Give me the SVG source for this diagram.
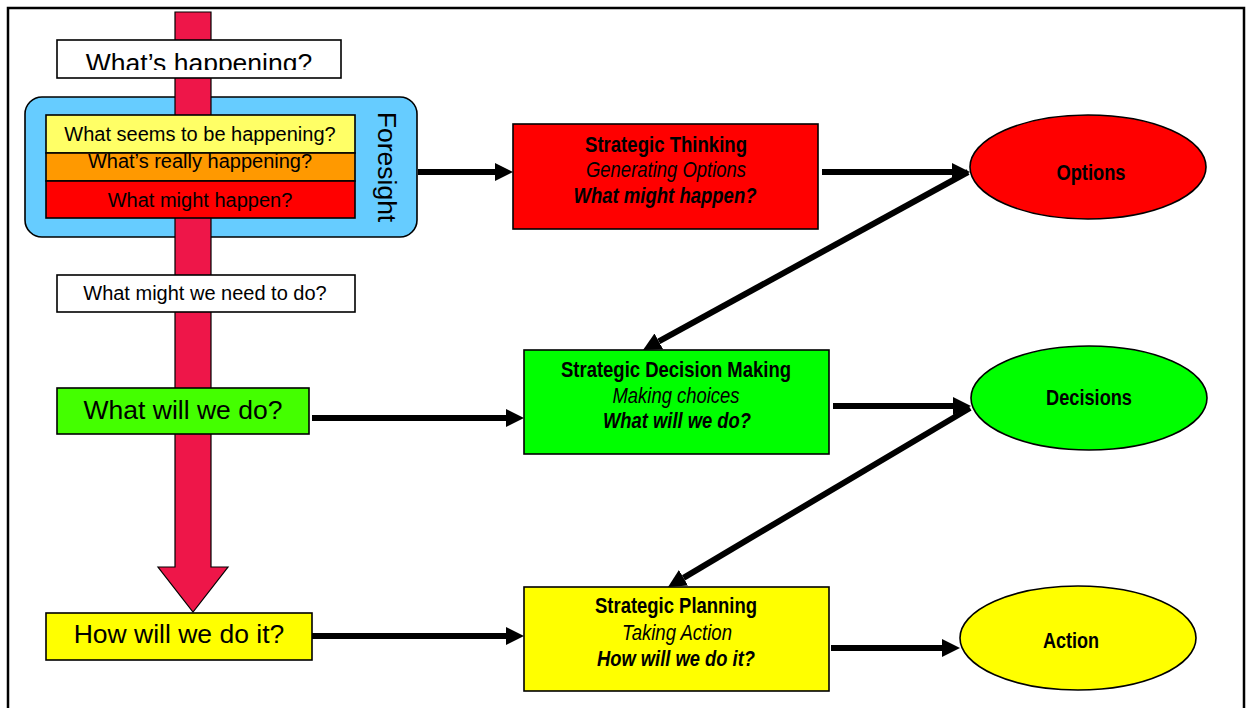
<svg xmlns="http://www.w3.org/2000/svg" width="1247" height="708" viewBox="0 0 1247 708">
<style>
  .box { stroke: #000; stroke-width: 1.6; }
  .q { font-family: "Liberation Sans", Arial, sans-serif; fill: #000; text-anchor: middle; }
  .n { font-family: "Liberation Sans Narrow", "Liberation Sans", Arial, sans-serif; fill: #000; text-anchor: middle; font-size: 22px; }
  .b { font-weight: bold; }
  .i { font-style: italic; }
  .conn line { stroke: #000; stroke-width: 6; stroke-linecap: butt; marker-end: url(#ah); }
</style>
<defs>
  <marker id="ah" markerUnits="userSpaceOnUse" viewBox="0 0 18 18" markerWidth="18" markerHeight="18" refX="0" refY="9" orient="auto">
    <path d="M0,0 L18,9 L0,18 z" fill="#000"/>
  </marker>
  <clipPath id="clipTop"><rect x="57" y="40" width="284" height="30"/></clipPath>
</defs>
<rect x="0" y="0" width="1247" height="708" fill="#fff"/>
<path d="M8,708 L8,8 L1244,8 L1244,708" fill="none" stroke="#000" stroke-width="2.5"/>

<g id="foresight">
  <rect x="25" y="97" width="392" height="140" rx="17" ry="17" fill="#66CCFF" stroke="#000" stroke-width="1.6"/>
  <text class="q" font-size="26.5" transform="translate(378,167) rotate(90)">Foresight</text>
</g>

<g id="flow-arrow">
  <path d="M175,12 L211,12 L211,567 L228,567 L193,612 L158,567 L175,567 z" fill="#EE1649" stroke="#000" stroke-width="1.2"/>
</g>

<g id="whats-happening">
  <rect class="box" x="57" y="40" width="284" height="38" fill="#fff"/>
  <text class="q" font-size="26.5" x="199" y="72" clip-path="url(#clipTop)">What’s happening?</text>
</g>

<g id="seems">
  <rect class="box" x="46" y="115" width="309" height="38" fill="#FFFF66"/>
  <text class="q" font-size="20" x="200" y="141">What seems to be happening?</text>
</g>
<g id="really">
  <rect class="box" x="46" y="153" width="309" height="28" fill="#FF9900"/>
  <text class="q" font-size="20" x="200" y="168">What’s really happening?</text>
</g>
<g id="might">
  <rect class="box" x="46" y="181" width="309" height="37" fill="#FF0000"/>
  <text class="q" font-size="20" x="200" y="207">What might happen?</text>
</g>

<g id="need-to-do">
  <rect class="box" x="57" y="275" width="298" height="37" fill="#fff"/>
  <text class="q" font-size="20" x="205" y="300">What might we need to do?</text>
</g>

<g id="will-we-do">
  <rect class="box" x="57" y="388" width="252" height="46" fill="#44FF00"/>
  <text class="q" font-size="26.5" x="183" y="419">What will we do?</text>
</g>

<g id="how-do-it">
  <rect class="box" x="46" y="613" width="266" height="47" fill="#FFFF00"/>
  <text class="q" font-size="26.5" x="179" y="643">How will we do it?</text>
</g>

<g id="strategic-thinking">
  <rect class="box" x="513" y="124" width="305" height="105" fill="#FF0000"/>
  <text class="n b" x="666" y="152" textLength="162" lengthAdjust="spacingAndGlyphs">Strategic Thinking</text>
  <text class="n i" x="666" y="177" textLength="160" lengthAdjust="spacingAndGlyphs">Generating Options</text>
  <text class="n b i" x="665" y="203" textLength="183" lengthAdjust="spacingAndGlyphs">What might happen?</text>
</g>

<g id="strategic-decision">
  <rect class="box" x="524" y="350" width="305" height="104" fill="#00FF00"/>
  <text class="n b" x="676" y="377" textLength="230" lengthAdjust="spacingAndGlyphs">Strategic Decision Making</text>
  <text class="n i" x="676" y="403" textLength="127" lengthAdjust="spacingAndGlyphs">Making choices</text>
  <text class="n b i" x="677" y="428" textLength="148" lengthAdjust="spacingAndGlyphs">What will we do?</text>
</g>

<g id="strategic-planning">
  <rect class="box" x="524" y="587" width="305" height="104" fill="#FFFF00"/>
  <text class="n b" x="676" y="613" textLength="162" lengthAdjust="spacingAndGlyphs">Strategic Planning</text>
  <text class="n i" x="677" y="640" textLength="110" lengthAdjust="spacingAndGlyphs">Taking Action</text>
  <text class="n b i" x="676" y="666" textLength="158" lengthAdjust="spacingAndGlyphs">How will we do it?</text>
</g>

<g id="options">
  <ellipse class="box" cx="1088" cy="167" rx="118" ry="52" fill="#FF0000"/>
  <text class="n b" x="1091" y="180" textLength="69" lengthAdjust="spacingAndGlyphs">Options</text>
</g>
<g id="decisions">
  <ellipse class="box" cx="1089" cy="398" rx="118" ry="52" fill="#00FF00"/>
  <text class="n b" x="1089" y="405" textLength="86" lengthAdjust="spacingAndGlyphs">Decisions</text>
</g>
<g id="action">
  <ellipse class="box" cx="1078" cy="638" rx="118" ry="52" fill="#FFFF00"/>
  <text class="n b" x="1071" y="648" textLength="56" lengthAdjust="spacingAndGlyphs">Action</text>
</g>

<g id="connectors" class="conn">
  <line x1="418" y1="172" x2="495" y2="172"/>
  <line x1="822" y1="172" x2="952" y2="172"/>
  <line x1="968" y1="172" x2="658.8" y2="341.4"/>
  <line x1="312" y1="418" x2="506" y2="418"/>
  <line x1="833" y1="406" x2="953" y2="406"/>
  <line x1="970" y1="408" x2="683.5" y2="577.8"/>
  <line x1="312" y1="636" x2="506" y2="636"/>
  <line x1="831" y1="648" x2="942" y2="648"/>
</g>
</svg>
